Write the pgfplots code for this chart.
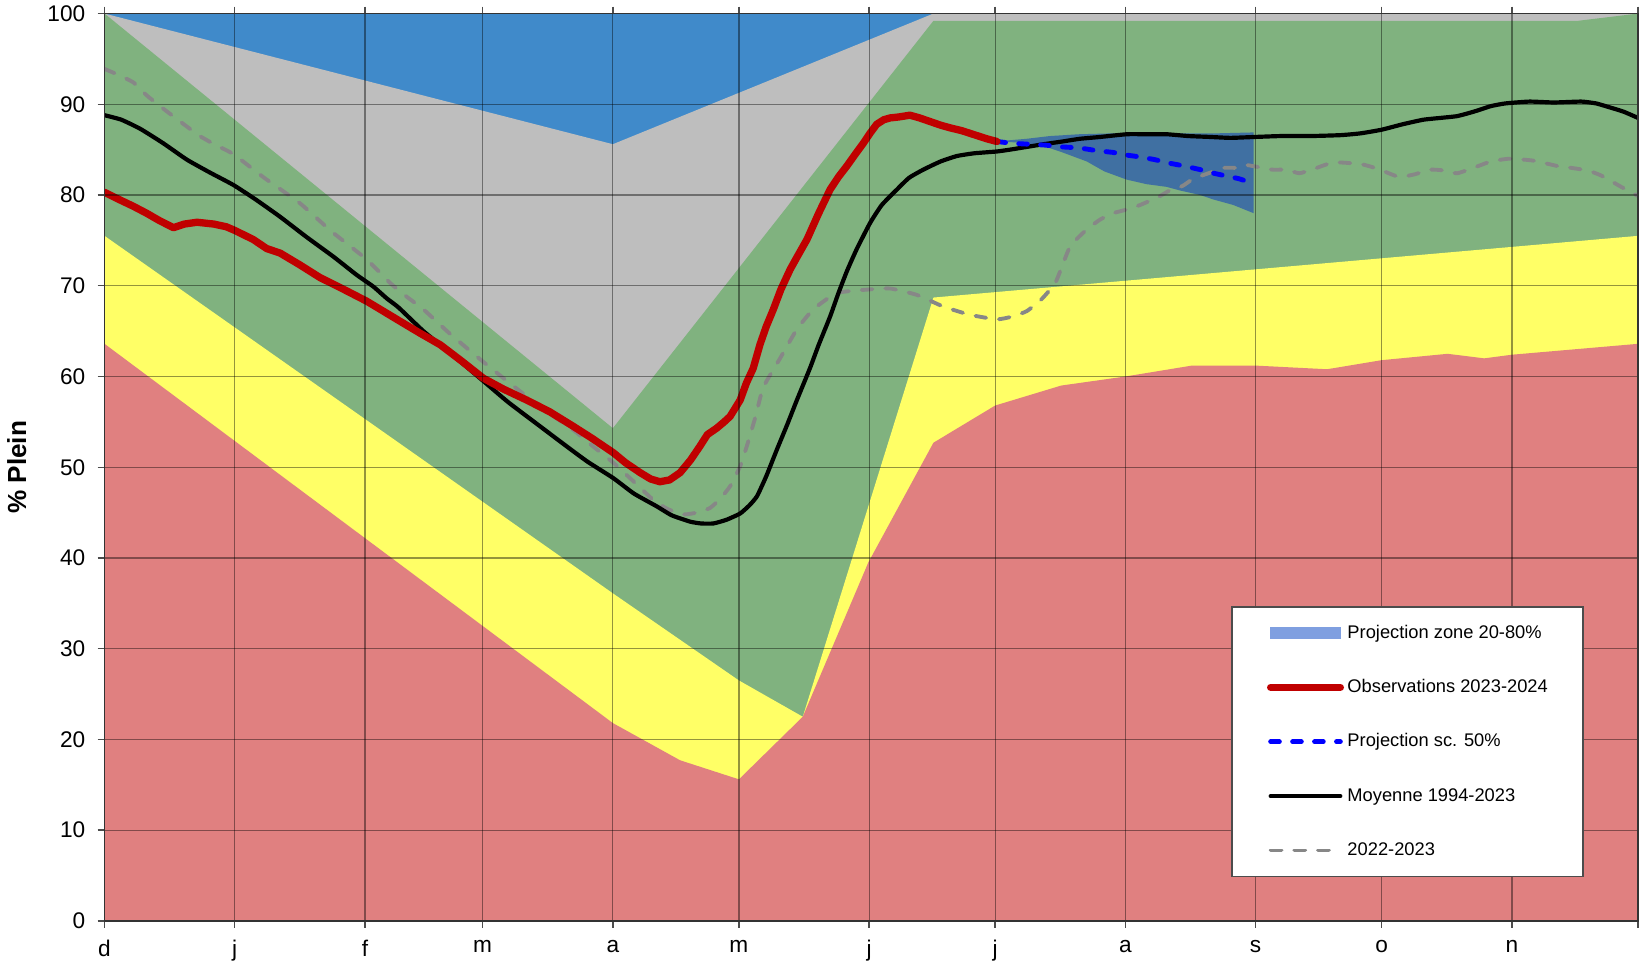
\documentclass[border=0pt]{standalone}
\usepackage{pgfplots}
\pgfplotsset{compat=1.18}
\usepackage{fontspec}
\setmainfont{Liberation Sans}

\definecolor{zblue}{RGB}{64,138,202}
\definecolor{zgray}{RGB}{190,190,190}
\definecolor{zgreen}{RGB}{128,178,127}
\definecolor{zyellow}{RGB}{255,255,102}
\definecolor{zred}{RGB}{224,128,128}
\definecolor{projzone}{RGB}{64,112,162}
\definecolor{projleg}{RGB}{127,159,224}
\definecolor{obsred}{RGB}{192,0,0}
\definecolor{projblue}{RGB}{0,0,255}
\definecolor{prevgray}{RGB}{135,135,135}

\begin{document}
\begin{tikzpicture}
\begin{axis}[
    name=ax,
    scale only axis,
    width=440.1pt, height=260.4pt,
    xmin=0, xmax=365, ymin=0, ymax=100,
    xtick={0,31,62,90,121,151,182,212,243,274,304,335,365},
    xticklabels={d,j,f,m,a,m,j,j,a,s,o,n,},
    ytick={0,10,...,100},
    tick align=outside,
    major tick length=2pt,
    tick style={black!70, line width=0.4pt},
    grid=major,
    major grid style={black, opacity=0.42, line width=0.35pt},
    axis on top,
    axis line style={black!80, line width=0.5pt},
    tick label style={font=\fontsize{6.5}{7}\selectfont},
    /pgf/number format/assume math mode=true,
    ylabel={\% Plein},
    every axis y label/.style={at={(axis description cs:-0.0573,0.5)}, rotate=90, anchor=center,
        font=\fontsize{7.5}{8}\selectfont\bfseries},
    legend image code/.code={\draw[#1] (0pt,0pt) -- (20pt,0pt);},
    legend cell align=left,
    legend style={at={(axis cs:268.2,34.7)}, anchor=north west, draw=black!70, line width=0.5pt,
        fill=white, font=\fontsize{5.25}{6}\selectfont, inner xsep=10pt, inner ysep=5pt,
        row sep=10.6pt, nodes={inner sep=0pt, text height=4pt, text depth=1pt},
        /tikz/every odd column/.append style={column sep=1pt}},
  ]
% zones, painted from the top band down
\addplot[draw=none, fill=zblue, forget plot] coordinates {(0,100) (365,100)} \closedcycle;
\addplot[draw=none, fill=zgray, forget plot] coordinates {(0,100) (121,85.6) (197.3,100) (365,100)} \closedcycle;
\addplot[draw=none, fill=zgreen, forget plot] coordinates {(0,100) (121,54.3) (197.3,99.2) (350.7,99.2) (365,100)} \closedcycle;
\addplot[draw=none, fill=zyellow, forget plot] coordinates {(0,75.5) (121,36.1) (151,26.5) (166.2,22.5) (197.3,68.7) (365,75.5)} \closedcycle;
\addplot[draw=none, fill=zred, forget plot] coordinates {(0,63.6) (121,21.8) (137,17.7) (151,15.6) (166.2,22.5) (181.8,39.5) (197.3,52.7) (212,56.8) (227.7,59.0) (243,60.0) (258.8,61.2) (274,61.2) (291,60.8) (304,61.8) (319.7,62.5) (328.4,62.0) (335,62.4) (365,63.6)} \closedcycle;

% projection zone 20-80%
\addplot[draw=none, fill=projzone, forget plot] coordinates {
 (212,85.9) (219.5,86.2) (225,86.5) (232,86.7) (240,86.8) (248,86.9) (256,86.8) (264.7,86.8) (273.5,86.9)
 (273.5,78.0) (268.7,78.9) (264,79.5) (260.8,80.0) (256,80.5) (252.8,80.9) (248,81.2) (243.3,81.7)
 (238,82.6) (233.8,83.7) (228,84.7) (223.5,85.4) (217,85.8) (212,85.9)} -- cycle;

% 2022-2023
\addplot[prevgray, line width=1.1pt, line cap=round, dash pattern=on 3.1pt off 3.7pt, smooth, tension=0.3, forget plot] coordinates {
 (0,93.9) (3.5,93.2) (6.9,92.4) (10,91.0) (13.2,89.8) (18,88.1) (22.7,86.5) (26.5,85.5) (30.7,84.5)
 (38,81.9) (46.5,79.1) (54,76.0) (62.4,72.9) (68,70.3) (71.9,68.8) (75.9,67.4) (82,64.8) (89.4,61.9)
 (95,59.8) (100.5,57.8) (106,55.9) (111.6,54.1) (116,52.4) (121.1,50.5) (126,48.4) (130.6,46.4)
 (134,45.4) (137.8,44.8) (141,45.0) (144.1,45.5) (146.5,46.5) (148.9,47.9) (151.3,50.1) (153,52.5)
 (154.9,55.5) (156.8,58.8) (160.8,62.0) (164.8,65.2) (168.7,67.4) (174.3,69.2) (182.2,69.6) (187,69.7)
 (193.3,69.0) (199.7,67.7) (206,66.8) (212.4,66.3) (216,66.6) (219.5,67.2) (223,68.5) (226.4,70.4)
 (229.8,74.3) (233.8,76.2) (237,77.3) (240.1,78.0) (243.3,78.4) (246.5,78.9) (250.9,79.8) (253.5,80.5)
 (256.6,81.0) (259.2,81.8) (264,82.6) (266.5,83.0) (269.7,83.0) (271.9,83.3) (277.9,82.8) (281.4,82.8)
 (284.4,82.4) (288,82.9) (292.6,83.6) (299.1,83.4) (303,82.9) (308.1,82.0) (312,82.3) (315.5,82.8)
 (319,82.7) (322,82.4) (327,83.2) (330,83.7) (334.3,84.0) (340,83.8) (345.8,83.2) (349,83.0)
 (353.1,82.7) (356,82.2) (358,81.7) (361,80.9) (365,79.9)};

% mean 1994-2023
\addplot[black, line width=1.2pt, line join=round, smooth, tension=0.3, forget plot] coordinates {
 (0,88.8) (4,88.3) (8.5,87.3) (14,85.7) (19.6,83.9) (25,82.5) (30.7,81.1) (36,79.5) (41.8,77.6)
 (48,75.4) (54.5,73.2) (60,71.2) (64,69.9) (67.2,68.6) (70,67.6) (75.9,65.0) (82,62.7) (89.4,59.8)
 (96,57.2) (103.7,54.5) (110,52.3) (115,50.6) (121.1,48.8) (126,47.1) (131.4,45.7) (135,44.7)
 (139.4,44.0) (142,43.8) (144.9,43.8) (148,44.2) (151.3,44.9) (153.5,45.8) (155.3,46.8) (157.5,49.0)
 (160,51.9) (162.5,54.7) (164.8,57.4) (167.9,60.9) (170,63.5) (172.7,66.6) (174.7,69.2) (176.7,71.6)
 (179,74.0) (182.2,76.9) (185,78.9) (188.6,80.6) (191.5,81.9) (194.9,82.8) (199,83.7) (202.9,84.3)
 (207,84.6) (212.4,84.8) (215.5,85.0) (219.5,85.3) (223.5,85.6) (228,85.9) (232.2,86.2) (237,86.4)
 (243.3,86.7) (248,86.7) (252.8,86.7) (258,86.5) (263.2,86.4) (268,86.3) (273.8,86.4) (280,86.5)
 (287,86.5) (294.2,86.6) (299,86.8) (304,87.2) (309,87.8) (313.9,88.3) (318,88.5) (322,88.7)
 (326,89.2) (330,89.8) (333.5,90.1) (339.2,90.3) (345,90.2) (351.5,90.3) (355,90.1) (358,89.7)
 (361.5,89.2) (365,88.5)};

% projection sc. 50%
\addplot[projblue, line width=1.4pt, line cap=round, dash pattern=on 2.5pt off 3.8pt, forget plot] coordinates {
 (212.4,85.9) (216,85.7) (220,85.6) (224,85.5) (228,85.3) (232,85.2) (236,84.9) (240,84.7) (243.3,84.4)
 (246.5,84.2) (250,83.9) (253.6,83.5) (257,83.2) (260.8,82.8) (264,82.4) (267,82.1) (270,81.8) (272,81.5)};

% observations 2023-2024
\addplot[obsred, line width=2.1pt, line join=round, line cap=round, forget plot] coordinates {
 (0,80.3) (3.5,79.5) (6.9,78.75) (10,78.0) (13,77.2) (16.4,76.4) (19,76.8) (22,77.0) (26,76.8) (29,76.5)
 (31,76.1) (35.4,75.1) (38.6,74.1) (41.8,73.6) (46.5,72.3) (51.3,70.9) (56.1,69.8) (62.4,68.3) (66,67.3)
 (70.3,66.1) (75,64.8) (79.9,63.5) (85,61.7) (90.2,59.8) (95,58.6) (100.5,57.4) (106,56.1) (111.6,54.5)
 (116,53.2) (121.1,51.6) (124,50.5) (127.5,49.4) (130,48.7) (132.2,48.4) (134.5,48.6) (137,49.4)
 (139.5,50.8) (141.7,52.3) (143.5,53.6) (145.7,54.3) (147.5,55.0) (148.9,55.6) (151.3,57.4) (152.8,59.3)
 (154.4,60.9) (156,63.5) (157.5,65.5) (159.2,67.4) (161,69.6) (163.2,71.8) (165,73.3) (167.2,75.1)
 (170,78.0) (172.7,80.6) (174.7,82.0) (176.7,83.2) (178.7,84.5) (180.6,85.7) (182.2,86.8) (183.8,87.8)
 (185.5,88.3) (187,88.5) (189,88.6) (191.7,88.8) (194,88.5) (196.5,88.1) (199,87.7) (201.3,87.4)
 (204,87.1) (206,86.8) (208,86.5) (210,86.2) (212.4,85.9)};

% legend
\addlegendimage{legend image code/.code={\fill[projleg] (0pt,-1.4pt) rectangle (20pt,1.4pt);}}
\addlegendentry{Projection zone 20-80\%}
\addlegendimage{obsred, line width=2.1pt, line cap=round}
\addlegendentry{Observations 2023-2024}
\addlegendimage{projblue, line width=1.4pt, line cap=round, dash pattern=on 2.5pt off 3.8pt}
\addlegendentry{Projection sc. 50\%}
\addlegendimage{black, line width=1.2pt, line cap=round}
\addlegendentry{Moyenne 1994-2023}
\addlegendimage{prevgray, line width=1.1pt, line cap=round, dash pattern=on 3.1pt off 3.7pt}
\addlegendentry{2022-2023}
\end{axis}
\pgfresetboundingbox
\path[use as bounding box] ([shift={(-30pt,-12.9pt)}]ax.south west) rectangle ([shift={(0.3pt,3.9pt)}]ax.north east);
\end{tikzpicture}
\end{document}
